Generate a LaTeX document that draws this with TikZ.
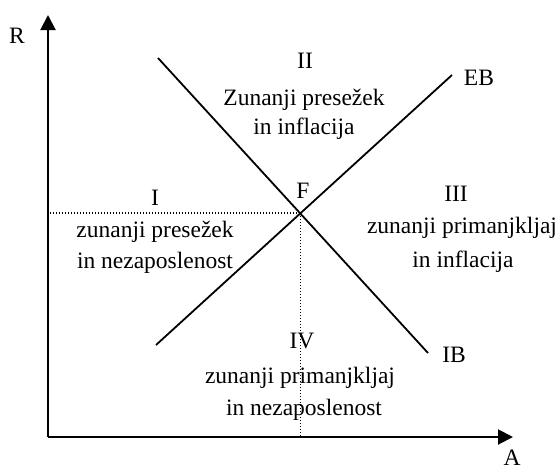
\documentclass[tikz,border=0pt]{standalone}
\usepackage{fontspec}
\setmainfont{Liberation Serif}
\usetikzlibrary{arrows.meta, positioning}

\begin{document}
\begin{tikzpicture}[x=0.5pt, y=-0.5pt,
    every node/.style={font=\fontsize{11.75}{14}\selectfont, inner sep=0pt},
    axisline/.style={line width=1pt, -{Triangle[length=7.5pt, width=7.5pt]}},
    balance/.style={line width=0.9pt},
    guide/.style={line width=0.6pt, dash pattern=on 0.5pt off 1pt},
    lbl/.style={anchor=base}]
  \useasboundingbox (0,0) rectangle (560,471);
  % axes
  \coordinate (O) at (48,437);
  \coordinate (Rtop) at (48,15);
  \coordinate (Aend) at (513,437);
  \draw[axisline] (O) -- (Rtop);
  \draw[axisline] (O) -- (Aend);
  \node[lbl] (R) at (17,43) {R};
  \node[lbl] (A) at (512,465) {A};
  % EB and IB lines
  \coordinate (EBlow) at (156,345);
  \coordinate (EBhigh) at (452,75);
  \coordinate (IBhigh) at (158,58);
  \coordinate (IBlow) at (428,353);
  \draw[balance] (EBlow) -- (EBhigh);
  \draw[balance] (IBhigh) -- (IBlow);
  \node[lbl] (EB) at (479,85) {EB};
  \node[lbl] (IB) at (454,362) {IB};
  % equilibrium F
  \coordinate (F) at (300.2,213);
  \node[lbl] (Flbl) at (303,198) {F};
  \draw[guide] (F) -- (F -| O);
  \draw[guide] (F) -- (F |- O);
  % region I
  \node[lbl] (numI) at (155,205) {I};
  \node[lbl] (txtIa) at (155,237) {zunanji presežek};
  \node[lbl] (txtIb) at (155,268) {in nezaposlenost};
  % region II
  \node[lbl] (numII) at (305,68) {II};
  \node[lbl] (txtIIa) at (304,105) {Zunanji presežek};
  \node[lbl] (txtIIb) at (304,134) {in inflacija};
  % region III
  \node[lbl] (numIII) at (456,201) {III};
  \node[lbl] (txtIIIa) at (462,233) {zunanji primanjkljaj};
  \node[lbl] (txtIIIb) at (463,267) {in inflacija};
  % region IV
  \node[lbl] (numIV) at (302,348) {IV};
  \node[lbl] (txtIVa) at (300,383) {zunanji primanjkljaj};
  \node[lbl] (txtIVb) at (304,415) {in nezaposlenost};
\end{tikzpicture}
\end{document}
